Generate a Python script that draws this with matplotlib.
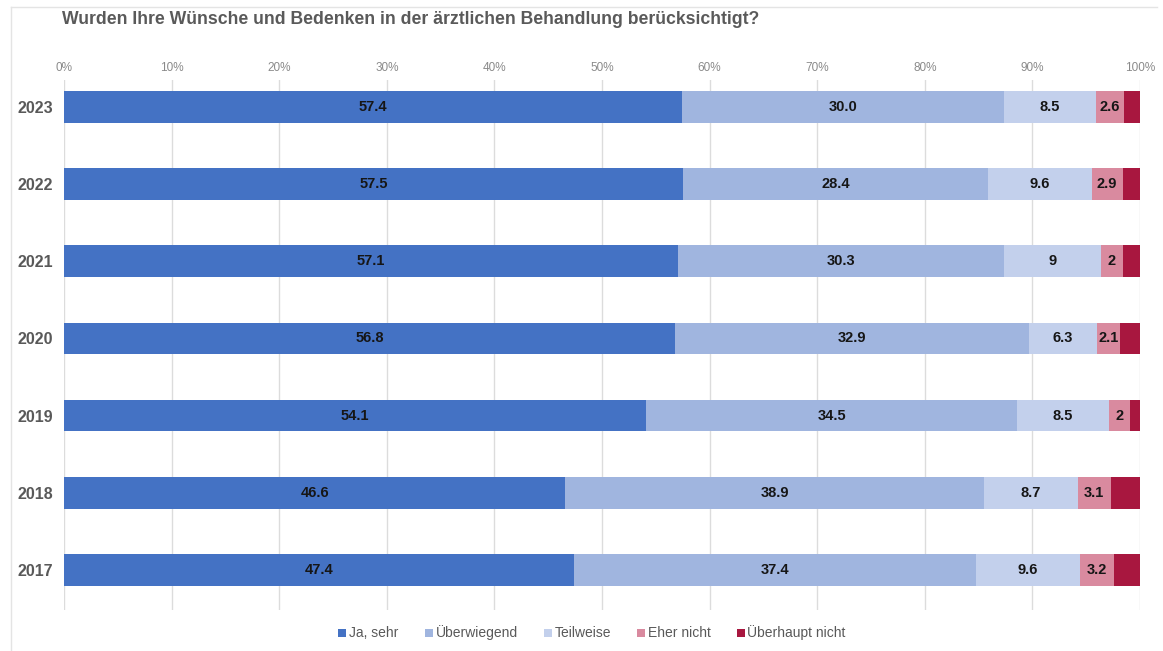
import matplotlib
matplotlib.use("Agg")
import matplotlib.pyplot as plt
from matplotlib.lines import Line2D
import numpy as np

years = ["2023", "2022", "2021", "2020", "2019", "2018", "2017"]
categories = ["Ja, sehr", "Überwiegend", "Teilweise", "Eher nicht", "Überhaupt nicht"]
ja_sehr = [57.4, 57.5, 57.1, 56.8, 54.1, 46.6, 47.4]
ueberwiegend = [30.0, 28.4, 30.3, 32.9, 34.5, 38.9, 37.4]
teilweise = [8.5, 9.6, 9, 6.3, 8.5, 8.7, 9.6]
eher_nicht = [2.6, 2.9, 2, 2.1, 2, 3.1, 3.2]
ueberhaupt_nicht = [1.5, 1.6, 1.6, 1.9, 0.9, 2.7, 2.4]
value_labels = [
    ["57.4", "57.5", "57.1", "56.8", "54.1", "46.6", "47.4"],
    ["30.0", "28.4", "30.3", "32.9", "34.5", "38.9", "37.4"],
    ["8.5", "9.6", "9", "6.3", "8.5", "8.7", "9.6"],
    ["2.6", "2.9", "2", "2.1", "2", "3.1", "3.2"],
    None,
]
title = "Wurden Ihre Wünsche und Bedenken in der ärztlichen Behandlung berücksichtigt?"

colors = ["#4472C4", "#A0B5DF", "#C3D0EC", "#D98A9F", "#A8173F"]
series = [ja_sehr, ueberwiegend, teilweise, eher_nicht, ueberhaupt_nicht]

plt.rcParams["font.family"] = ["Liberation Sans", "DejaVu Sans"]

W, H = 1163, 651
fig = plt.figure(figsize=(W / 100, H / 100), dpi=100)
ax = fig.add_axes([64 / W, 1 - 610 / H, (1140 - 64) / W, (610 - 80) / H])

y = np.arange(len(years))
left = np.zeros(len(years))
for vals, col, labels in zip(series, colors, value_labels):
    vals = np.array(vals, dtype=float)
    ax.barh(y, vals, left=left, height=0.41, color=col, zorder=3, linewidth=0)
    if labels is not None:
        for yi, (l, v, t) in enumerate(zip(left, vals, labels)):
            ax.text(l + v / 2, yi, t, ha="center", va="center",
                    fontsize=10.5, fontweight="bold", color="#161616", zorder=4)
    left = left + vals

ax.set_xlim(0, 100)
ax.set_ylim(6.52, -0.35)
ax.set_xticks(np.arange(0, 101, 10))
ax.set_xticklabels([f"{v}%" for v in range(0, 101, 10)],
                   family=["Liberation Sans Narrow", "Liberation Sans", "DejaVu Sans"],
                   fontsize=8.5, color="#8a8a8a")
ax.xaxis.tick_top()
ax.tick_params(axis="x", length=0, pad=4)
ax.set_yticks(y)
ax.set_yticklabels(years, fontsize=11.5, fontweight="bold", color="#595959")
ax.tick_params(axis="y", length=0, pad=8)
ax.grid(axis="x", color="#dcdcdc", linewidth=1, zorder=0)
for s in ax.spines.values():
    s.set_visible(False)

fig.text(62 / W, 1 - 20 / H, title, ha="left", va="center",
         fontsize=12.7, fontweight="bold", color="#5a5a5a")

handles = [Line2D([], [], marker="s", linestyle="none", markersize=6,
                  markerfacecolor=c, markeredgewidth=0) for c in colors]
fig.legend(handles, categories, loc="center", bbox_to_anchor=(591 / W, 1 - 633 / H),
           ncol=5, frameon=False, fontsize=10, labelcolor="#595959",
           handletextpad=0.05, columnspacing=1.7, handlelength=0.9)

# light frame around the chart area
fig.add_artist(Line2D([11 / W, 11 / W], [0, 1 - 7 / H], transform=fig.transFigure,
                      color="#e4e4e4", linewidth=1))
fig.add_artist(Line2D([11 / W, 1157 / W], [1 - 7 / H, 1 - 7 / H], transform=fig.transFigure,
                      color="#e4e4e4", linewidth=1))

fig.savefig("out.png", dpi=100, facecolor="white")
